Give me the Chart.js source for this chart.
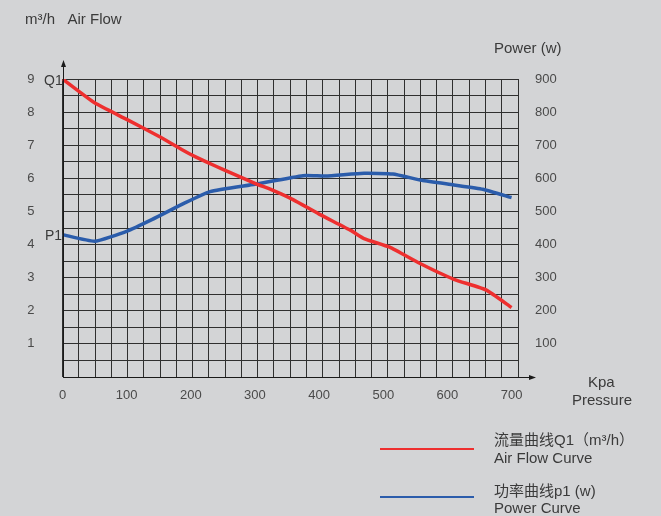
<!DOCTYPE html>
<html>
<head>
<meta charset="utf-8">
<script src="https://cdn.jsdelivr.net/npm/chart.js@4/dist/chart.umd.min.js"></script>
<style>
    html, body { margin: 0; padding: 0; background: #d3d4d6; }
    #wrap { position: relative; width: 661px; height: 516px; overflow: hidden; }
    canvas { position: absolute; left: 0; top: 0; }
    .lbl { position: absolute; font-family: "Liberation Sans", Arial, sans-serif; font-size: 15px; line-height: 15px; color: #3a3a3a; white-space: nowrap; }
    .cjk { font-family: "Liberation Sans", "Noto Sans CJK SC", sans-serif; }
    .sw { position: absolute; height: 2px; }
</style>
</head>
<body>
<div id="wrap">
    <canvas id="chart" width="661" height="516"></canvas>
    <div class="lbl" style="left:25px; top:11px;">m³/h&nbsp;&nbsp;&nbsp;Air Flow</div>
    <div class="lbl" style="left:494px; top:40px;">Power (w)</div>
    <div class="lbl" style="left:44px; top:73px; font-size:14px;">Q1</div>
    <div class="lbl" style="left:45px; top:228px; font-size:14px;">P1</div>
    <div class="lbl" style="left:588px; top:374px;">Kpa</div>
    <div class="lbl" style="left:572px; top:392px;">Pressure</div>
    <div class="sw" style="left:380px; top:448px; width:94px; background:#ee2f2f;"></div>
    <div class="sw" style="left:380px; top:496px; width:94px; background:#2b5cab;"></div>
    <div class="lbl cjk" style="left:494px; top:432px;">流量曲线Q1（m³/h）</div>
    <div class="lbl" style="left:494px; top:450px;">Air Flow Curve</div>
    <div class="lbl cjk" style="left:494px; top:483px;">功率曲线p1 (w)</div>
    <div class="lbl" style="left:494px; top:500px;">Power Curve</div>
</div>
<script>
// air flow curve Q1 (m3/h) against pressure (Kpa)
const flowPressure = [0, 50, 100, 150, 200, 250, 300, 330, 360, 400, 450, 470, 510, 555, 610, 660, 700];
const flowValues = [9.0, 8.28, 7.78, 7.27, 6.72, 6.27, 5.85, 5.62, 5.35, 4.92, 4.42, 4.18, 3.92, 3.45, 2.95, 2.63, 2.1];

// power curve P1 (w) against pressure (Kpa)
const powerPressure = [0, 50, 100, 140, 190, 230, 300, 375, 410, 470, 515, 560, 610, 655, 700];
const powerValues = [430, 410, 440, 476, 525, 560, 582, 608, 607, 615, 613, 594, 580, 567, 542];

const pressureTicks = [0, 100, 200, 300, 400, 500, 600, 700];
const flowTicks = [1, 2, 3, 4, 5, 6, 7, 8, 9];
const powerTicks = [100, 200, 300, 400, 500, 600, 700, 800, 900];

const tickFont = { family: "'Liberation Sans', Arial, sans-serif", size: 13 };
const tickColor = '#4a4a4a';
const gridColor = '#2f2f2f';

// axis lines with arrow heads
const arrowPlugin = {
    id: 'arrows',
    afterDraw(chart) {
        const ctx = chart.ctx;
        const a = chart.chartArea;
        const x0 = Math.round(a.left) + 0.5;
        const y0 = Math.round(a.bottom) + 0.5;
        ctx.save();
        ctx.strokeStyle = '#1a1a1a';
        ctx.fillStyle = '#1a1a1a';
        ctx.lineWidth = 1;
        ctx.beginPath();
        ctx.moveTo(x0, y0);
        ctx.lineTo(x0, a.top - 16);
        ctx.moveTo(x0, y0);
        ctx.lineTo(a.right + 15, y0);
        ctx.stroke();
        ctx.beginPath();
        ctx.moveTo(x0, a.top - 19);
        ctx.lineTo(x0 - 2.5, a.top - 12);
        ctx.lineTo(x0 + 2.5, a.top - 12);
        ctx.closePath();
        ctx.fill();
        ctx.beginPath();
        ctx.moveTo(a.right + 18, y0);
        ctx.lineTo(a.right + 11, y0 - 2.5);
        ctx.lineTo(a.right + 11, y0 + 2.5);
        ctx.closePath();
        ctx.fill();
        ctx.restore();
    }
};

const ctx = document.getElementById('chart').getContext('2d');

new Chart(ctx, {
    type: 'line',
    data: {
        datasets: [
            {
                label: 'Air Flow Curve',
                data: flowPressure.map((p, i) => ({ x: p, y: flowValues[i] })),
                borderColor: '#ee2f2f',
                borderWidth: 3.5,
                pointRadius: 0,
                tension: 0.15,
                xAxisID: 'x',
                yAxisID: 'y'
            },
            {
                label: 'Power Curve',
                data: powerPressure.map((p, i) => ({ x: p, y: powerValues[i] })),
                borderColor: '#2b5cab',
                borderWidth: 3.5,
                pointRadius: 0,
                tension: 0.15,
                xAxisID: 'x',
                yAxisID: 'y1'
            }
        ]
    },
    options: {
        responsive: false,
        animation: false,
        layout: { padding: { top: 79, left: 0, right: 0, bottom: 0 } },
        plugins: {
            legend: { display: false },
            tooltip: { enabled: false }
        },
        scales: {
            xg: {
                type: 'linear',
                position: 'bottom',
                min: 0,
                max: 28,
                ticks: { display: false, stepSize: 1, autoSkip: false },
                grid: { color: gridColor, lineWidth: 1, drawTicks: false },
                border: { display: false },
                afterFit(axis) { axis.height = 0; }
            },
            x: {
                type: 'linear',
                position: 'bottom',
                min: 0,
                max: 710,
                afterBuildTicks(axis) { axis.ticks = pressureTicks.map(v => ({ value: v })); },
                ticks: { color: tickColor, font: tickFont, padding: 11, autoSkip: false, maxRotation: 0 },
                grid: { display: false, drawTicks: false },
                border: { display: false },
                afterFit(axis) { axis.height = 139; }
            },
            y: {
                type: 'linear',
                position: 'left',
                min: 0,
                max: 9,
                ticks: {
                    stepSize: 0.5,
                    autoSkip: false,
                    color: tickColor,
                    font: tickFont,
                    padding: 28,
                    callback: v => flowTicks.includes(v) ? v : ''
                },
                grid: { color: gridColor, lineWidth: 1, drawTicks: false },
                border: { display: false },
                afterFit(axis) { axis.width = 62.5; }
            },
            y1: {
                type: 'linear',
                position: 'right',
                min: 0,
                max: 900,
                afterBuildTicks(axis) { axis.ticks = [0].concat(powerTicks).map(v => ({ value: v })); },
                ticks: {
                    autoSkip: false,
                    color: tickColor,
                    font: tickFont,
                    padding: 17,
                    callback: v => v === 0 ? '' : v
                },
                grid: { display: false, drawTicks: false },
                border: { display: false },
                afterFit(axis) { axis.width = 143; }
            }
        }
    },
    plugins: [arrowPlugin]
});
</script>
</body>
</html>
